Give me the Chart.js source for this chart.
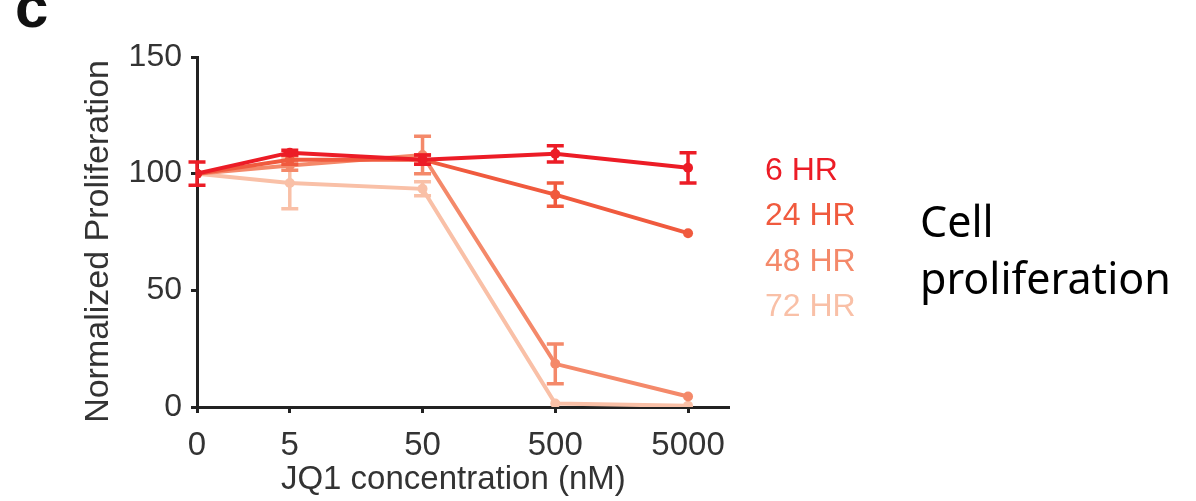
<!DOCTYPE html>
<html>
<head>
<meta charset="utf-8">
<script src="https://cdn.jsdelivr.net/npm/chart.js@4.4.1/dist/chart.umd.min.js"></script>
<style>
  html, body { margin: 0; padding: 0; background: #fff; }
  #wrap { position: relative; width: 1196px; height: 501px; overflow: hidden; }
  canvas { position: absolute; left: 0; top: 0; }
  .txt { position: absolute; white-space: nowrap; }
  #panel { left: 15px; top: -23px; font: bold 60px "Liberation Sans", Arial, sans-serif; line-height: 60px; color: #111; }
  .leg { left: 765px; font: 32px "Liberation Sans", Arial, sans-serif; line-height: 30px; }
  #note { left: 920px; top: 192px; font: 43px "Noto Sans", "Open Sans", sans-serif; line-height: 57px; color: #000; }
</style>
</head>
<body>
<div id="wrap">
  <canvas id="chart" width="1196" height="501"></canvas>
  <div id="panel" class="txt">c</div>
  <div id="note" class="txt">Cell<br>proliferation</div>
</div>
<script>
// concentrations (nM) on the x axis
const concentrations = [0, 5, 50, 500, 5000];
const seriesLabels = ["6 HR", "24 HR", "48 HR", "72 HR"];
const seriesColors = ["#ec1c26", "#f05a3e", "#f4896a", "#f9c0a7"];

// normalized proliferation
const hr6 = [100, 109, 106, 108.5, 102.5];
const hr24 = [100, 106, 106, 91, 74.5];
const hr48 = [100, 103.5, 108, 18.5, 4.5];
const hr72 = [100, 96, 93.5, 1.5, 0.5];

// error bar half-widths (+/-)
const err6 = [5, 1, 2, 3.5, 6.5];
const err24 = [0, 2, 2, 5, 0];
const err48 = [0, 2, 8, 8.5, 0];
const err72 = [0, 11, 3, 0, 0];

const yTicks = [0, 50, 100, 150];

const allValues = [hr6, hr24, hr48, hr72];
const allErrors = [err6, err24, err48, err72];

// x axis is log spaced, with 0 put at the origin
const xPos = concentrations.map(c => (c === 0 ? 0 : Math.log10(c)));

const FONT = '"Liberation Sans", Arial, sans-serif';

const errorBars = {
  id: "errorBars",
  afterDatasetDraw(chart, args) {
    const i = args.index;
    const errs = allErrors[i];
    const ctx = chart.ctx;
    const xs = chart.scales.x, ys = chart.scales.y;
    ctx.save();
    ctx.strokeStyle = seriesColors[i];
    ctx.lineWidth = 3.5;
    errs.forEach((e, k) => {
      if (!e) return;
      const v = allValues[i][k];
      const px = xs.getPixelForValue(xPos[k]);
      const top = ys.getPixelForValue(v + e);
      const bot = ys.getPixelForValue(v - e);
      ctx.beginPath();
      ctx.moveTo(px, top); ctx.lineTo(px, bot);
      ctx.moveTo(px - 8.5, top); ctx.lineTo(px + 8.5, top);
      ctx.moveTo(px - 8.5, bot); ctx.lineTo(px + 8.5, bot);
      ctx.stroke();
    });
    ctx.restore();
  }
};

const datasets = seriesLabels.map((label, i) => ({
  label: label,
  data: allValues[i].map((v, k) => ({ x: xPos[k], y: v })),
  borderColor: seriesColors[i],
  backgroundColor: seriesColors[i],
  borderWidth: 4,
  pointRadius: 5,
  pointBorderWidth: 0,
  tension: 0
}));

new Chart(document.getElementById("chart"), {
  type: "line",
  data: { datasets: datasets },
  plugins: [errorBars],
  options: {
    responsive: false,
    animation: false,
    events: [],
    layout: { padding: { left: 75, right: 468, top: 57, bottom: 0 } },
    plugins: { legend: { display: false }, tooltip: { enabled: false } },
    scales: {
      x: {
        type: "linear",
        min: 0,
        max: 4,
        afterFit: s => { s.height = 94; },
        afterBuildTicks: s => { s.ticks = xPos.map(v => ({ value: v })); },
        ticks: {
          autoSkip: false,
          maxRotation: 0,
          padding: 13,
          color: "#333",
          font: { family: FONT, size: 33 },
          callback: (v, idx) => String(concentrations[idx])
        },
        grid: { drawOnChartArea: false, drawTicks: true, tickLength: 6, color: "#222", lineWidth: 3 },
        border: { display: true, color: "#222", width: 3 },
        title: {
          display: true,
          text: "JQ1 concentration (nM)  ",
          color: "#333",
          font: { family: FONT, size: 33 },
          padding: { top: 0, bottom: 1 }
        }
      },
      y: {
        min: 0,
        max: 150,
        afterFit: s => { s.width = 122; },
        afterBuildTicks: s => { s.ticks = yTicks.map(v => ({ value: v })); },
        ticks: {
          padding: 9,
          color: "#333",
          font: { family: FONT, size: 32 }
        },
        grid: { drawOnChartArea: false, drawTicks: true, tickLength: 6, color: "#222", lineWidth: 3 },
        border: { display: true, color: "#222", width: 3 },
        title: {
          display: true,
          text: "Normalized Proliferation  ",
          color: "#333",
          font: { family: FONT, size: 34 },
          padding: { top: 3, bottom: 0 }
        }
      }
    }
  }
});

// colored text legend to the right of the plot
const legendTops = [154, 199, 245, 290];
const wrap = document.getElementById("wrap");
seriesLabels.forEach((label, i) => {
  const d = document.createElement("div");
  d.className = "txt leg";
  d.style.top = legendTops[i] + "px";
  d.style.color = seriesColors[i];
  d.textContent = label;
  wrap.appendChild(d);
});
</script>
</body>
</html>
